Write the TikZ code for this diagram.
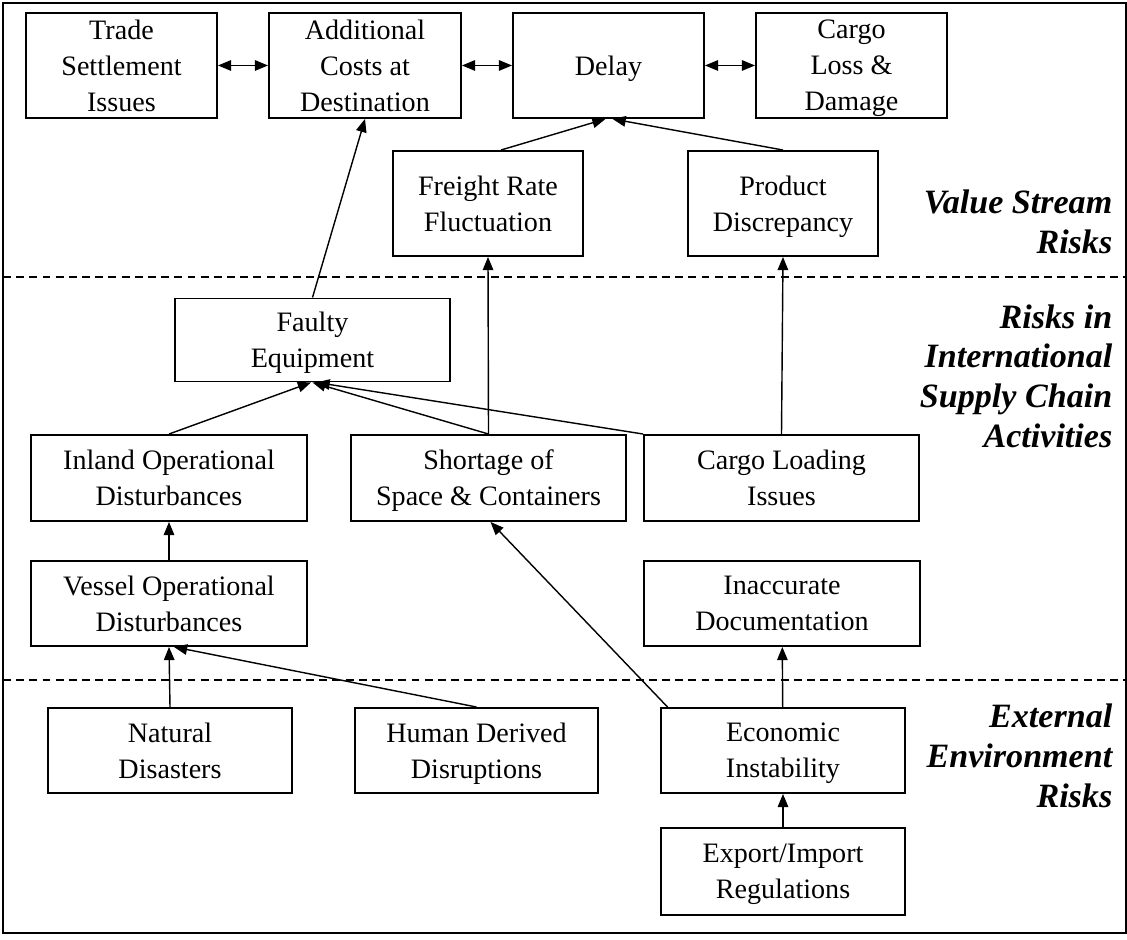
\documentclass[tikz,border=0pt]{standalone}
\usepackage{fontspec}
\setmainfont{Liberation Serif}
\usetikzlibrary{arrows.meta}

\begin{document}
\begin{tikzpicture}[font=\fontsize{16}{20.4}\selectfont, line width=0.8pt,
      riskbox/.style={draw, line width=1.1pt, align=center, inner sep=0pt, text depth=-2pt},
      tier/.style={anchor=east, align=right, inner sep=0pt,
         font=\fontsize{19.4}{22.6}\selectfont\bfseries\itshape},
      >={Triangle[length=7.5pt, width=6pt]}]
      \useasboundingbox (0, 0) rectangle (22.54, 18.8);
      \draw [line width=1.1pt] (0.06, 0.14) rectangle (22.52, 18.74);
      \draw [line width=1.1pt, dash pattern=on 4.5pt off 3pt] (0.06, 13.26) -- (22.52, 13.26);
      \draw [line width=1.1pt, dash pattern=on 4.5pt off 3pt] (0.06, 5.2) -- (22.52, 5.2);

      \node [riskbox, minimum width=3.82cm, minimum height=2.1cm] (trade) at (2.43, 17.49) {Trade\\Settlement\\Issues};
      \node [riskbox, minimum width=3.84cm, minimum height=2.1cm] (cost) at (7.3, 17.49) {Additional\\Costs at\\Destination};
      \node [riskbox, minimum width=3.82cm, minimum height=2.1cm] (delay) at (12.17, 17.49) {Delay};
      \node [riskbox, minimum width=3.82cm, minimum height=2.1cm] (loss) at (17.03, 17.49) {Cargo\\Loss \&\\Damage};
      \node [riskbox, minimum width=3.8cm, minimum height=2.1cm] (freight) at (9.76, 14.73) {Freight Rate\\Fluctuation};
      \node [riskbox, minimum width=3.8cm, minimum height=2.1cm] (product) at (15.66, 14.73) {Product\\Discrepancy};

      \node [riskbox, minimum width=5.5cm, minimum height=1.66cm] (faulty) at (6.25, 12) {Faulty\\Equipment};
      \node [riskbox, minimum width=5.52cm, minimum height=1.72cm] (inland) at (3.38, 9.24) {Inland Operational\\Disturbances};
      \node [riskbox, minimum width=5.5cm, minimum height=1.72cm] (shortage) at (9.77, 9.24) {Shortage of\\Space \& Containers};
      \node [riskbox, minimum width=5.5cm, minimum height=1.72cm] (loading) at (15.63, 9.24) {Cargo Loading\\Issues};
      \node [riskbox, minimum width=5.52cm, minimum height=1.7cm] (vessel) at (3.38, 6.73) {Vessel Operational\\Disturbances};
      \node [riskbox, minimum width=5.52cm, minimum height=1.7cm] (inaccurate) at (15.64, 6.73) {Inaccurate\\Documentation};

      \node [riskbox, minimum width=4.88cm, minimum height=1.7cm] (natural) at (3.4, 3.79) {Natural\\Disasters};
      \node [riskbox, minimum width=4.86cm, minimum height=1.7cm] (human) at (9.53, 3.79) {Human Derived\\Disruptions};
      \node [riskbox, minimum width=4.88cm, minimum height=1.7cm] (economic) at (15.66, 3.79) {Economic\\Instability};
      \node [riskbox, minimum width=4.88cm, minimum height=1.74cm] (export) at (15.66, 1.37) {Export/Import\\Regulations};

      \node [tier] (vsr) at (22.26, 14.36) {Value Stream\\Risks};
      \node [tier] (isc) at (22.26, 11.28) {Risks in\\International\\Supply Chain\\Activities};
      \node [tier] (eer) at (22.26, 3.68) {External\\Environment\\Risks};

      \draw [<->] (trade) -- (cost);
      \draw [<->] (cost) -- (delay);
      \draw [<->] (delay) -- (loss);
      \draw [->] ([xshift=0.26cm]freight.north) -- ([xshift=-0.06cm]delay.south);
      \draw [->] (product.north) -- ([xshift=0.08cm]delay.south);
      \draw [->] (faulty.north) -- (cost.south);
      \draw [->] (shortage.north) -- (freight.south);
      \draw [->] (loading.north) -- (product.south);
      \draw [->] (inland.north) -- ([xshift=-0.03cm]faulty.south);
      \draw [->] (shortage.north) -- (faulty.south);
      \draw [->] (loading.north west) -- ([xshift=0.08cm]faulty.south);
      \draw [->] (vessel) -- (inland);
      \draw [->] (natural.north) -- (vessel.south);
      \draw [->] (human.north) -- ([xshift=0.1cm]vessel.south);
      \draw [->] ([xshift=0.15cm]economic.north west) -- ([xshift=0.04cm]shortage.south);
      \draw [->] (economic) -- (inaccurate);
      \draw [->] (export) -- (economic);
   \end{tikzpicture}
\end{document}
